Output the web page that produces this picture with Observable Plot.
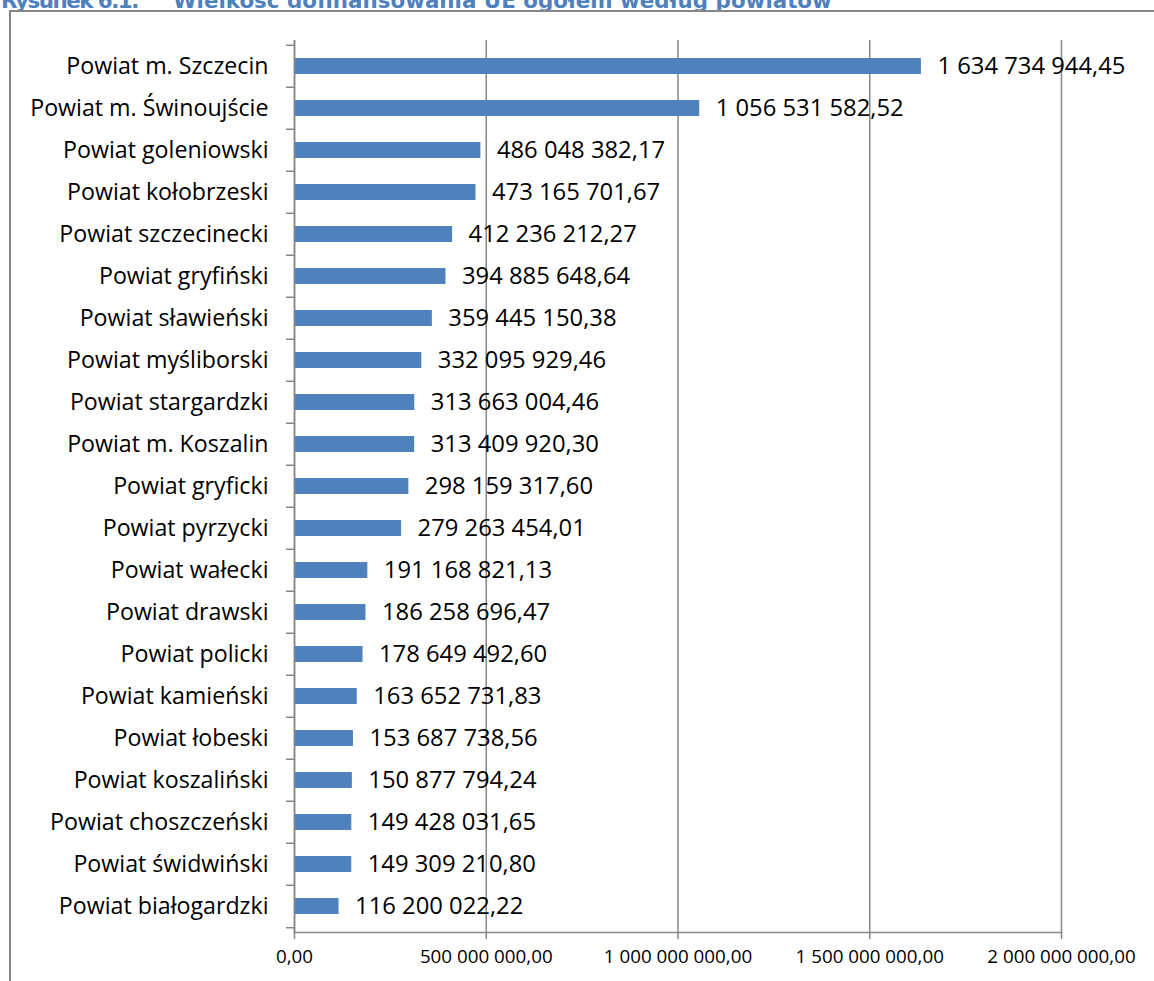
<!DOCTYPE html>
<html><head><meta charset="utf-8">
<script src="https://cdn.jsdelivr.net/npm/d3@7"></script>
<script src="https://cdn.jsdelivr.net/npm/@observablehq/plot@0.6"></script>
<style>
body{margin:0;background:#fff;}
#wrap{position:relative;width:1154px;height:981px;overflow:hidden;background:#fff;}
#title{position:absolute;left:1px;top:-12px;font:bold 21.4px "DejaVu Sans",sans-serif;color:#4F81BD;white-space:nowrap;}
#frame{position:absolute;left:9px;top:10px;width:1200px;height:1000px;border-left:2px solid #868686;border-top:2px solid #868686;pointer-events:none;}
#chart{position:absolute;left:0;top:0;}
</style></head>
<body>
<div id="wrap">
  <div id="title"><span style="letter-spacing:-1.5px">Rysunek 6.1.</span><span style="position:absolute;left:172px">Wielkość dofinansowania UE ogółem według powiatów</span></div>
  <div id="frame"></div>
  <div id="chart"></div>
</div>
<script>
const powiaty = [
  "Powiat m. Szczecin","Powiat m. Świnoujście","Powiat goleniowski","Powiat kołobrzeski",
  "Powiat szczecinecki","Powiat gryfiński","Powiat sławieński","Powiat myśliborski",
  "Powiat stargardzki","Powiat m. Koszalin","Powiat gryficki","Powiat pyrzycki",
  "Powiat wałecki","Powiat drawski","Powiat policki","Powiat kamieński",
  "Powiat łobeski","Powiat koszaliński","Powiat choszczeński","Powiat świdwiński",
  "Powiat białogardzki"
];
const wartosci = [
  1634734944.45, 1056531582.52, 486048382.17, 473165701.67,
  412236212.27, 394885648.64, 359445150.38, 332095929.46,
  313663004.46, 313409920.30, 298159317.60, 279263454.01,
  191168821.13, 186258696.47, 178649492.60, 163652731.83,
  153687738.56, 150877794.24, 149428031.65, 149309210.80,
  116200022.22
];
const xTicks = [0, 500000000, 1000000000, 1500000000, 2000000000];

const data = powiaty.map((p, i) => ({p, v: wartosci[i]}));
const locale = d3.formatLocale({decimal: ",", thousands: "\u00a0", grouping: [3], currency: ["", " zł"]});
const fmt = locale.format(",.2f");

const W = 1154, H = 981, MT = 40, MB = 49, ML = 294, MR = 93;
const step = (H - MT - MB) / powiaty.length;
const grey = "#868686";
const font = "'Open Sans', Lato, sans-serif";

const chart = Plot.plot({
  width: W, height: H,
  marginTop: MT, marginBottom: MB, marginLeft: ML, marginRight: MR,
  style: {fontFamily: font, color: "#000", background: "transparent"},
  x: {domain: [0, 2000000000], ticks: xTicks},
  y: {domain: powiaty, paddingInner: 0.61, paddingOuter: 0.305, label: null},
  marks: [
    Plot.gridX(xTicks, {stroke: grey, strokeOpacity: 1, strokeWidth: 1.5}),
    Plot.barX(data, {x: "v", y: "p", fill: "#4F81BD"}),
    Plot.ruleX([0], {stroke: grey, strokeWidth: 1.5}),
    Plot.frame({anchor: "bottom", stroke: grey, strokeWidth: 1.5}),
    Plot.axisX({ticks: xTicks, tickFormat: fmt, tickSize: 7, tickPadding: 10, fontSize: 18.8, stroke: grey, strokeWidth: 1.5, label: null}),
    Plot.axisY({tickSize: 0, tickPadding: 26, fontSize: 23.2, label: null}),
    Plot.axisY({tickSize: 8, tickFormat: () => "", dy: -step / 2, stroke: grey, strokeWidth: 1.5, label: null}),
    Plot.axisY([powiaty[powiaty.length - 1]], {tickSize: 8, tickFormat: () => "", dy: step / 2, stroke: grey, strokeWidth: 1.5, label: null}),
    Plot.text(data, {x: "v", y: "p", text: d => fmt(d.v), textAnchor: "start", dx: 16, fontSize: 23.8, fill: "#000"})
  ]
});
document.getElementById("chart").appendChild(chart);
</script>
</body></html>
